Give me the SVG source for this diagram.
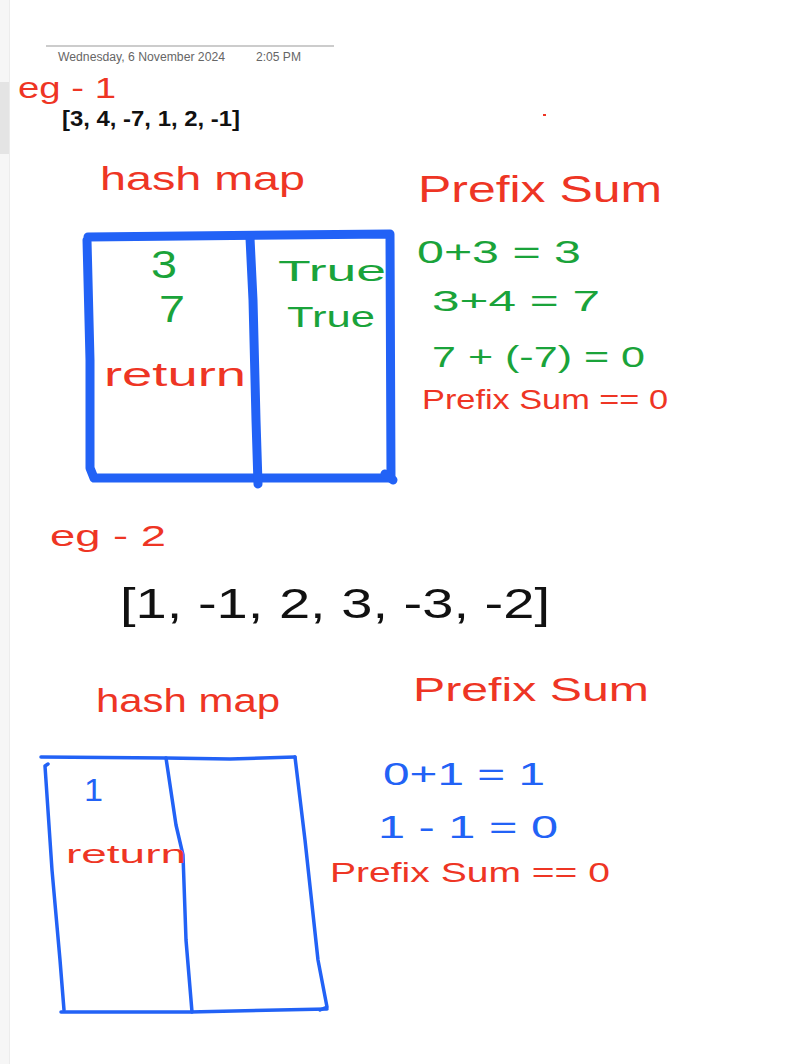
<svg xmlns="http://www.w3.org/2000/svg" width="798" height="1064" viewBox="0 0 798 1064">
<style>
.hand{font-family:"Liberation Sans","DejaVu Sans",sans-serif}
.red{fill:#ee3524}
.green{fill:#1aa33a}
.blue{fill:#2262f6}
.blk{fill:#111}
.meta{font-family:"Liberation Sans",sans-serif;font-size:12px;fill:#666}
.thick{fill:none;stroke:#2262f6;stroke-width:9;stroke-linecap:round;stroke-linejoin:round}
.thin{fill:none;stroke:#2262f6;stroke-width:3.5;stroke-linecap:round;stroke-linejoin:round}
</style>
<rect x="0" y="0" width="798" height="1064" fill="#ffffff"/>
<rect x="0" y="0" width="9" height="1064" fill="#f6f6f6"/>
<rect x="0" y="82" width="9" height="72" fill="#e4e4e4"/>
<line x1="9.5" y1="0" x2="9.5" y2="1064" stroke="#ececec" stroke-width="1"/>
<line x1="46" y1="46" x2="334" y2="46" stroke="#999" stroke-width="1"/>
<text class="meta" x="58" y="61" textLength="167" lengthAdjust="spacingAndGlyphs">Wednesday, 6 November 2024</text>
<text class="meta" x="256" y="61" textLength="45" lengthAdjust="spacingAndGlyphs">2:05 PM</text>
<text class="hand red" x="18" y="98" font-size="30" textLength="98" lengthAdjust="spacingAndGlyphs">eg - 1</text>
<text x="62" y="126" font-family="Liberation Sans,sans-serif" font-weight="bold" font-size="22" class="blk" textLength="178" lengthAdjust="spacingAndGlyphs">[3, 4, -7, 1, 2, -1]</text>
<rect x="543" y="114" width="3" height="2" fill="#ee3524"/>

<g id="ex1-hashmap">
<text class="hand red" x="100" y="190" font-size="34" textLength="205" lengthAdjust="spacingAndGlyphs">hash map</text>
<path class="thick" d="M88,237 L390,234 L391,478 L94,478 L90,468 L90,360 L87,240"/>
<path class="thick" d="M250,238 L253,300 L256,420 L258,484"/>
<path class="thick" d="M385,474 L393,480"/>
<text class="hand green" x="151" y="278" font-size="38" textLength="26" lengthAdjust="spacingAndGlyphs">3</text>
<text class="hand green" x="159" y="322" font-size="36" textLength="26" lengthAdjust="spacingAndGlyphs">7</text>
<text class="hand green" x="278" y="281" font-size="30" textLength="108" lengthAdjust="spacingAndGlyphs">True</text>
<text class="hand green" x="287" y="327" font-size="30" textLength="88" lengthAdjust="spacingAndGlyphs">True</text>
<text class="hand red" x="104" y="386" font-size="34" textLength="142" lengthAdjust="spacingAndGlyphs">return</text>
</g>

<g id="ex1-prefix">
<text class="hand red" x="418" y="202" font-size="36" textLength="244" lengthAdjust="spacingAndGlyphs">Prefix Sum</text>
<text class="hand green" x="417" y="263" font-size="32" textLength="164" lengthAdjust="spacingAndGlyphs">0+3 = 3</text>
<text class="hand green" x="432" y="311" font-size="30" textLength="168" lengthAdjust="spacingAndGlyphs">3+4 = 7</text>
<text class="hand green" x="432" y="367" font-size="30" textLength="213" lengthAdjust="spacingAndGlyphs">7 + (-7) = 0</text>
<text class="hand red" x="422" y="409" font-size="28" textLength="246" lengthAdjust="spacingAndGlyphs">Prefix Sum == 0</text>
</g>

<text class="hand red" x="50" y="546" font-size="30" textLength="116" lengthAdjust="spacingAndGlyphs">eg - 2</text>
<text class="hand blk" x="120" y="618" font-size="42" textLength="430" lengthAdjust="spacingAndGlyphs">[1, -1, 2, 3, -3, -2]</text>

<g id="ex2-hashmap">
<text class="hand red" x="96" y="712" font-size="34" textLength="184" lengthAdjust="spacingAndGlyphs">hash map</text>
<path class="thin" d="M41,757 L166,758 L230,759 L295,757"/>
<path class="thin" d="M48,764 L45,766 L52,870 L60,960 L64,1010"/>
<path class="thin" d="M166,758 L176,825 L183,855 L186,940 L192,1012"/>
<path class="thin" d="M295,757 L305,840 L318,960 L327,1007 L320,1010"/>
<path class="thin" d="M61,1012 L190,1012 L327,1009"/>
<text class="hand blue" x="84" y="801" font-size="32" textLength="19" lengthAdjust="spacingAndGlyphs">1</text>
<text class="hand red" x="66" y="863" font-size="26" textLength="120" lengthAdjust="spacingAndGlyphs">return</text>
</g>

<g id="ex2-prefix">
<text class="hand red" x="413" y="701" font-size="34" textLength="236" lengthAdjust="spacingAndGlyphs">Prefix Sum</text>
<text class="hand blue" x="383" y="785" font-size="32" textLength="162" lengthAdjust="spacingAndGlyphs">0+1 = 1</text>
<text class="hand blue" x="378" y="838" font-size="32" textLength="180" lengthAdjust="spacingAndGlyphs">1 - 1 = 0</text>
<text class="hand red" x="330" y="882" font-size="28" textLength="280" lengthAdjust="spacingAndGlyphs">Prefix Sum == 0</text>
</g>
</svg>
